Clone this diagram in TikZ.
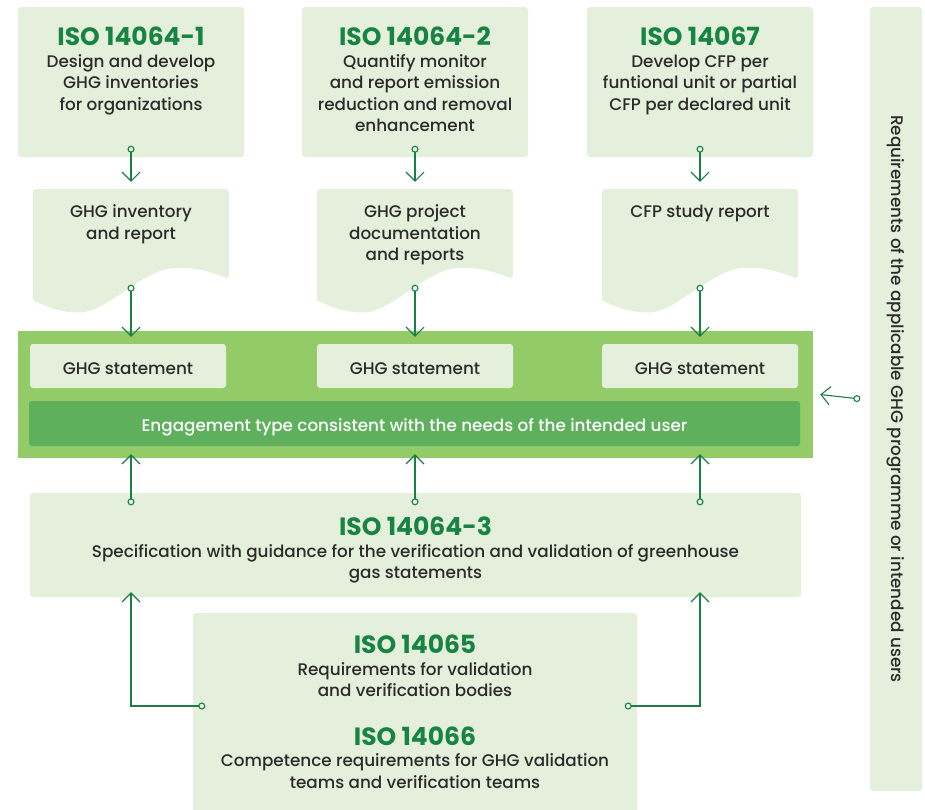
\documentclass[tikz,border=0pt]{standalone}
\usepackage{fontspec}
\setmainfont{Poppins}[UprightFont=* Medium,BoldFont=* Bold]
\usetikzlibrary{positioning,arrows.meta}

\definecolor{pale}{HTML}{E4F0DB}
\definecolor{bandgreen}{HTML}{93CB68}
\definecolor{enggreen}{HTML}{5EB05C}
\definecolor{linegreen}{HTML}{1A7F45}
\definecolor{isogreen}{HTML}{178443}
\definecolor{ink}{HTML}{2B2B2B}

\newcommand{\bodyfont}{\fontsize{16.8}{21.5}\selectfont}
\newcommand{\isotitle}[1]{{\fontsize{25}{28}\selectfont\bfseries\color{isogreen}#1}}

\begin{document}
\begin{tikzpicture}%
  [x=1pt,y=-1pt,
   panel/.style=
    {fill=pale,rounded corners=3pt,inner sep=0pt},
   topbox/.style=
    {panel,minimum width=226pt,minimum height=150pt},
   docbox/.style=
    {inner sep=0pt,minimum width=196pt,minimum height=123pt},
   stmtbox/.style=
    {panel,minimum width=196pt,minimum height=44pt,text=ink,font=\bodyfont,
     text height=16pt,text depth=0pt},
   body/.style=
    {align=center,text=ink,font=\bodyfont,inner sep=0pt},
   flow/.style={draw=linegreen,line width=1.1pt,
    {Circle[open,length=7pt,width=7pt]}-{Straight Barb[length=9pt,width=18pt]}}
  ]
  \useasboundingbox (0,0) rectangle (925,809);

  % standards on top
  \node[topbox] (iso641) at (131,82) {};
  \node[topbox] (iso642) at (415,82) {};
  \node[topbox] (iso67) at (700,82) {};
  \node[body,below=20pt of iso641.north] {\isotitle{ISO 14064-1}\\Design and develop\\GHG inventories\\for organizations};
  \node[body,below=20pt of iso642.north] {\isotitle{ISO 14064-2}\\Quantify monitor\\and report emission\\reduction and removal\\enhancement};
  \node[body,below=20pt of iso67.north] {\isotitle{ISO 14067}\\Develop CFP per\\funtional unit or partial\\CFP per declared unit};

  % reports
  \node[docbox] (rep1) at (131,250.5) {};
  \node[docbox] (rep2) at (415,250.5) {};
  \node[docbox] (rep3) at (700,250.5) {};
  \foreach \r in {rep1,rep2,rep3}{
    \begin{scope}[shift={(\r.south west)}]
      \fill[pale,rounded corners=3pt] (0,-12) -- (0,-123) -- (196,-123) -- (196,-33) [sharp corners]
        .. controls (180,-40) and (160,-46) .. (140,-44)
        .. controls (110,-42) and (75,-2) .. (50,0)
        .. controls (35,1) and (20,-2) .. (0,-12) -- cycle;
    \end{scope}}
  \node[body,below=16pt of rep1.north] {GHG inventory\\and report};
  \node[body,below=16pt of rep2.north] {GHG project\\documentation\\and reports};
  \node[body,below=16pt of rep3.north] {CFP study report};

  % statements
  \node[fill=bandgreen,minimum width=795pt,minimum height=127pt] (band) at (415.5,394.5) {};
  \node[stmtbox] (st1) at (128,366) {GHG statement};
  \node[stmtbox] (st2) at (415,366) {GHG statement};
  \node[stmtbox] (st3) at (700,366) {GHG statement};
  \node[fill=enggreen,rounded corners=3pt,minimum width=771pt,minimum height=45pt,
        text=white,font=\bodyfont,text height=15pt,text depth=0pt] (eng) at (414.5,423.5)
    {Engagement type consistent with the needs of the intended user};

  % verification
  \node[panel,minimum width=771pt,minimum height=104pt] (iso643) at (415.5,545) {};
  \node[body,below=24pt of iso643.north] {\isotitle{ISO 14064-3}\\Specification with guidance for the verification and validation of greenhouse\\gas statements};
  \node[panel,minimum width=444pt,minimum height=200pt] (iso65) at (415,713) {};
  \node[body,below=22pt of iso65.north] {\isotitle{ISO 14065}\\Requirements for validation\\and verification bodies\\[27pt]\isotitle{ISO 14066}\\Competence requirements for GHG validation\\teams and verification teams};

  % programme
  \node[panel,minimum width=52pt,minimum height=784pt] (req) at (896,399) {};
  \node[body,rotate=-90] at (req) {Requirements of the applicable GHG programme or intended users};

  % connectors
  \draw[flow] ([yshift=11.5pt]iso641.south) -- ([yshift=7pt]rep1.north);
  \draw[flow] ([yshift=11.5pt]iso642.south) -- ([yshift=7pt]rep2.north);
  \draw[flow] ([yshift=11.5pt]iso67.south) -- ([yshift=7pt]rep3.north);
  \draw[flow] ([yshift=27.5pt]rep1.south) -- ([yshift=7pt]rep1.south |- st1.north);
  \draw[flow] ([yshift=27.5pt]rep2.south) -- ([yshift=7pt]rep2.south |- st2.north);
  \draw[flow] ([yshift=27.5pt]rep3.south) -- ([yshift=7pt]rep3.south |- st3.north);
  \draw[flow] ([yshift=-12.5pt]rep1.south |- iso643.north) -- ([yshift=-8pt]rep1.south |- eng.south);
  \draw[flow] ([yshift=-12.5pt]rep2.south |- iso643.north) -- ([yshift=-8pt]rep2.south |- eng.south);
  \draw[flow] ([yshift=-12.5pt]rep3.south |- iso643.north) -- ([yshift=-8pt]rep3.south |- eng.south);
  \draw[flow] ([xshift=12.5pt,yshift=7pt]iso65.west) -| ([yshift=5pt]rep1.south |- iso643.south);
  \draw[flow] ([xshift=-12.5pt,yshift=7pt]iso65.east) -| ([yshift=5pt]rep3.south |- iso643.south);
  \draw[flow] ([xshift=-9.5pt]req.west) -- ([xshift=7pt]band.east);
\end{tikzpicture}
\end{document}
